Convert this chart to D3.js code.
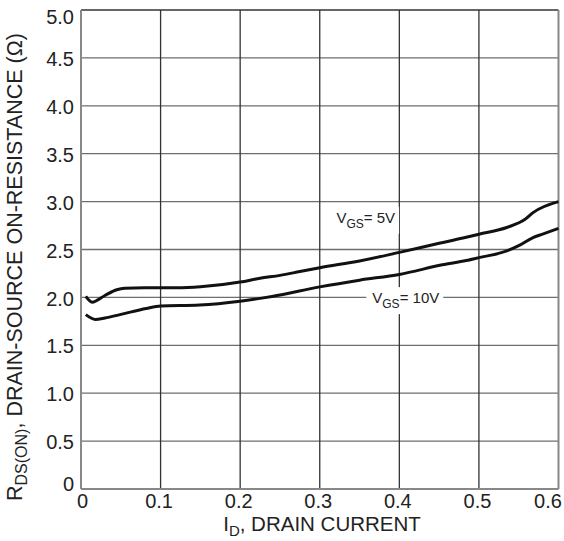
<!DOCTYPE html>
<meta charset="utf-8">
<title>RDS(on) vs ID</title>
<style>
  body { margin: 0; background: #fff; }
  svg text { font-family: "Liberation Sans", Arial, sans-serif; fill: #222; }
</style>
<div id="viz"></div>
<script src="https://cdnjs.cloudflare.com/ajax/libs/d3/7.8.5/d3.min.js"></script>
<script>

// values
var xTicks = [0, 0.1, 0.2, 0.3, 0.4, 0.5, 0.6];
var xTickLabels = ["0", "0.1", "0.2", "0.3", "0.4", "0.5", "0.6"];
var yTicks = [0, 0.5, 1.0, 1.5, 2.0, 2.5, 3.0, 3.5, 4.0, 4.5, 5.0];
var yTickLabels = ["0", "0.5", "1.0", "1.5", "2.0", "2.5", "3.0", "3.5", "4.0", "4.5", "5.0"];

// VGS = 5V
var id5 = [0.006, 0.014, 0.03, 0.045, 0.055, 0.08, 0.12, 0.15, 0.2, 0.225, 0.25, 0.275, 0.3, 0.35, 0.4, 0.45, 0.48, 0.5, 0.535, 0.558, 0.568, 0.6];
var r5  = [2.01, 1.95, 2.02, 2.08, 2.095, 2.1, 2.1, 2.11, 2.16, 2.2, 2.23, 2.27, 2.31, 2.38, 2.47, 2.565, 2.62, 2.66, 2.73, 2.815, 2.885, 3.0];

// VGS = 10V
var id10 = [0.006, 0.018, 0.03, 0.049, 0.082, 0.1, 0.149, 0.2, 0.225, 0.24, 0.3, 0.35, 0.4, 0.454, 0.484, 0.5, 0.535, 0.55, 0.568, 0.58, 0.6];
var r10  = [1.82, 1.77, 1.785, 1.82, 1.885, 1.91, 1.92, 1.96, 1.99, 2.01, 2.11, 2.18, 2.24, 2.34, 2.385, 2.415, 2.485, 2.54, 2.625, 2.66, 2.72];

var width = 564, height = 541;
var margin = {left: 81, right: 5.5, top: 10, bottom: 52};

var x = d3.scaleLinear().domain([0, 0.6]).range([margin.left, width - margin.right]);
var y = d3.scaleLinear().domain([0, 5]).range([height - margin.bottom, margin.top]);

var svg = d3.select("#viz").append("svg")
  .attr("width", width)
  .attr("height", height);

// grid
svg.append("g")
  .selectAll("line")
  .data(yTicks.slice(1, -1))
  .join("line")
  .attr("x1", x(0)).attr("x2", x(0.6))
  .attr("y1", d => y(d)).attr("y2", d => y(d))
  .attr("stroke", "#6e6e6e").attr("stroke-width", 1.3);

svg.append("g")
  .selectAll("line")
  .data(xTicks.slice(1, -1))
  .join("line")
  .attr("x1", d => x(d)).attr("x2", d => x(d))
  .attr("y1", y(0)).attr("y2", y(5))
  .attr("stroke", "#333").attr("stroke-width", 1.3);

// frame
svg.append("line").attr("x1", x(0)).attr("x2", x(0.6)).attr("y1", y(5)).attr("y2", y(5))
  .attr("stroke", "#333").attr("stroke-width", 1.3);
svg.append("line").attr("x1", x(0.6)).attr("x2", x(0.6)).attr("y1", y(5)).attr("y2", y(0))
  .attr("stroke", "#888").attr("stroke-width", 2);
svg.append("line").attr("x1", x(0)).attr("x2", x(0)).attr("y1", y(5)).attr("y2", y(0))
  .attr("stroke", "#888").attr("stroke-width", 2);
svg.append("line").attr("x1", x(0)).attr("x2", x(0.6)).attr("y1", y(0)).attr("y2", y(0))
  .attr("stroke", "#888").attr("stroke-width", 2);

// tick labels via d3 axes
var xAxis = svg.append("g")
  .attr("transform", "translate(0," + y(0) + ")")
  .call(d3.axisBottom(x).tickValues(xTicks).tickFormat((d, i) => xTickLabels[i]).tickSize(0).tickPadding(6));
xAxis.select(".domain").remove();
xAxis.selectAll("text")
  .attr("font-size", 20).attr("fill", "#222")
  .attr("y", 19).attr("dy", 0)
  .attr("x", d => d === 0.6 ? -11 : (d === 0 ? 1 : -2));

var yAxis = svg.append("g")
  .attr("transform", "translate(" + x(0) + ",0)")
  .call(d3.axisLeft(y).tickValues(yTicks).tickFormat((d, i) => yTickLabels[i]).tickSize(0).tickPadding(7));
yAxis.select(".domain").remove();
yAxis.selectAll("text")
  .attr("font-size", 20).attr("fill", "#222")
  .attr("dy", d => d === 5 ? "0.68em" : (d === 0 ? "0.05em" : "0.38em"));

// axis titles
var xt = svg.append("text")
  .attr("x", 322).attr("y", 531)
  .attr("text-anchor", "middle")
  .attr("font-size", 20.5);
xt.append("tspan").text("I");
xt.append("tspan").attr("font-size", 15).attr("dy", 5).text("D");
xt.append("tspan").attr("dy", -5).text(", DRAIN CURRENT");

var yt = svg.append("text")
  .attr("transform", "translate(22,267) rotate(-90)")
  .attr("text-anchor", "middle")
  .attr("font-size", 21.5);
yt.append("tspan").text("R");
yt.append("tspan").attr("font-size", 16).attr("dy", 5).text("DS(ON)");
yt.append("tspan").attr("dy", -5).text(", DRAIN-SOURCE ON-RESISTANCE (\u03A9)");

// curve labels with white backing
function curveLabel(px, py, num) {
  var g = svg.append("g");
  var bg = g.append("rect").attr("fill", "#fff");
  var t = g.append("text").attr("x", px).attr("y", py).attr("font-size", 15);
  t.append("tspan").text("V");
  t.append("tspan").attr("font-size", 12).attr("dy", 5).text("GS");
  t.append("tspan").attr("dy", -5).text("= " + num);
  var b = t.node().getBBox();
  bg.attr("x", b.x - 6).attr("y", b.y - 2).attr("width", b.width + 10).attr("height", b.height + 5);
}
curveLabel(x(0.321), y(2.78), "5V");
curveLabel(x(0.366), y(1.94), "10V");

// curves
var line = d3.line().x(d => x(d[0])).y(d => y(d[1])).curve(d3.curveMonotoneX);
svg.append("path")
  .attr("d", line(d3.zip(id5, r5)))
  .attr("fill", "none").attr("stroke", "#111").attr("stroke-width", 3);
svg.append("path")
  .attr("d", line(d3.zip(id10, r10)))
  .attr("fill", "none").attr("stroke", "#111").attr("stroke-width", 3);

</script>
